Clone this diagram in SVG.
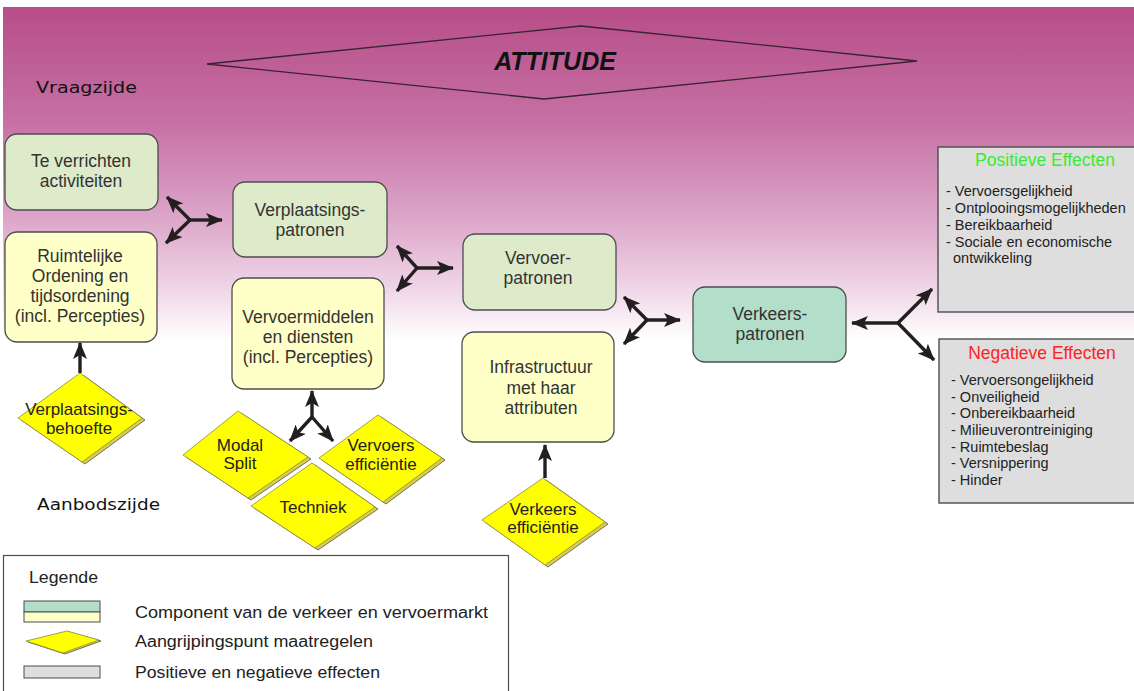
<svg xmlns="http://www.w3.org/2000/svg" width="1134" height="691" viewBox="0 0 1134 691">
<defs>
<linearGradient id="bg" x1="0" y1="0" x2="0" y2="1">
<stop offset="0" stop-color="#B74D89"/>
<stop offset="0.35" stop-color="#C671A5"/>
<stop offset="0.62" stop-color="#DBA3C7"/>
<stop offset="0.84" stop-color="#EFD4E6"/>
<stop offset="1" stop-color="#FFFFFF"/>
</linearGradient>
<marker id="ah" viewBox="0 0 17 14" refX="16" refY="7" markerWidth="17" markerHeight="14" orient="auto" markerUnits="userSpaceOnUse">
<path d="M0,0 L17,7 L0,14 L4,7 z" fill="#231F20"/>
</marker>
</defs>
<style>
.box{stroke:#4d4d4d;stroke-width:1.3}
.g{fill:#DDEBCB}
.y{fill:#FFFFC8}
.t{fill:#B3DECA}
.gr{fill:#DEDEDE;stroke:#4d4d4d;stroke-width:1.4}
.nt{font-family:"Liberation Sans",Arial,sans-serif;font-size:17.5px;fill:#333;text-anchor:middle}
.dt{font-family:"Liberation Sans",Arial,sans-serif;font-size:17px;fill:#222;text-anchor:middle}
.et{font-family:"Liberation Sans",Arial,sans-serif;font-size:14.5px;fill:#222}
.side{font-family:"DejaVu Sans",Verdana,sans-serif;font-size:16px;fill:#111}
.lg{font-family:"Liberation Sans",Arial,sans-serif;font-size:16px;fill:#222}
.dback{fill:#D9CC4A;stroke:#555;stroke-width:0.8}
.dfront{fill:#FFFF00;stroke:#8a8a40;stroke-width:0.8}
.con line{stroke:#231F20;stroke-width:3.4;marker-end:url(#ah)}
</style>
<rect x="0" y="0" width="1134" height="691" fill="#fff"/>
<rect x="3" y="7" width="1131" height="333" fill="url(#bg)"/>

<g id="attitude">
<polygon points="207,64 581,26 917,61 544,99" fill="none" stroke="#3a2232" stroke-width="1.3"/>
<text x="555" y="70" font-family="Liberation Sans,Arial,sans-serif" font-size="25" font-weight="bold" font-style="italic" text-anchor="middle" fill="#111">ATTITUDE</text>
</g>
<text class="side" x="36" y="93" textLength="101" lengthAdjust="spacingAndGlyphs">Vraagzijde</text>
<text class="side" x="37" y="510" textLength="123" lengthAdjust="spacingAndGlyphs">Aanbodszijde</text>

<g id="activiteiten">
<rect class="box g" x="5" y="134" width="153" height="76" rx="12"/>
<text class="nt" x="81" y="167">Te verrichten</text>
<text class="nt" x="81" y="187">activiteiten</text>
</g>
<g id="ruimtelijke">
<rect class="box y" x="5" y="232" width="152" height="110" rx="12"/>
<text class="nt" x="80" y="262">Ruimtelijke</text>
<text class="nt" x="80" y="282">Ordening en</text>
<text class="nt" x="80" y="302">tijdsordening</text>
<text class="nt" x="80" y="322">(incl. Percepties)</text>
</g>
<g id="verplaatsingspatronen">
<rect class="box g" x="233" y="182" width="154" height="75" rx="12"/>
<text class="nt" x="310" y="216">Verplaatsings-</text>
<text class="nt" x="310" y="236">patronen</text>
</g>
<g id="vervoermiddelen">
<rect class="box y" x="232" y="278" width="152" height="111" rx="12"/>
<text class="nt" x="308" y="323">Vervoermiddelen</text>
<text class="nt" x="308" y="343">en diensten</text>
<text class="nt" x="308" y="363">(incl. Percepties)</text>
</g>
<g id="vervoerpatronen">
<rect class="box g" x="463" y="234" width="153" height="76" rx="12"/>
<text class="nt" x="538" y="264">Vervoer-</text>
<text class="nt" x="538" y="284">patronen</text>
</g>
<g id="infrastructuur">
<rect class="box y" x="462" y="332" width="152" height="110" rx="12"/>
<text class="nt" x="541" y="373">Infrastructuur</text>
<text class="nt" x="541" y="394">met haar</text>
<text class="nt" x="541" y="414">attributen</text>
</g>
<g id="verkeerspatronen">
<rect class="box t" x="693" y="287" width="153" height="75" rx="12"/>
<text class="nt" x="770" y="320">Verkeers-</text>
<text class="nt" x="770" y="340">patronen</text>
</g>

<g id="positieve">
<rect class="gr" x="938" y="147" width="205" height="165"/>
<text x="1045" y="166" font-family="Liberation Sans,Arial,sans-serif" font-size="17.5" fill="#33EE33" text-anchor="middle">Positieve Effecten</text>
<text class="et" x="946" y="196">- Vervoersgelijkheid</text>
<text class="et" x="946" y="213">- Ontplooingsmogelijkheden</text>
<text class="et" x="946" y="230">- Bereikbaarheid</text>
<text class="et" x="946" y="247">- Sociale en economische</text>
<text class="et" x="953" y="263">ontwikkeling</text>
</g>
<g id="negatieve">
<rect class="gr" x="939" y="339" width="205" height="164"/>
<text x="1042" y="359" font-family="Liberation Sans,Arial,sans-serif" font-size="17.5" fill="#FF2222" text-anchor="middle">Negatieve Effecten</text>
<text class="et" x="951" y="385">- Vervoersongelijkheid</text>
<text class="et" x="951" y="402">- Onveiligheid</text>
<text class="et" x="951" y="418">- Onbereikbaarheid</text>
<text class="et" x="951" y="435">- Milieuverontreiniging</text>
<text class="et" x="951" y="452">- Ruimtebeslag</text>
<text class="et" x="951" y="468">- Versnippering</text>
<text class="et" x="951" y="485">- Hinder</text>
</g>

<g id="verplaatsingsbehoefte">
<polygon class="dback" points="21,420 83,375 145,420 85,464"/>
<polygon class="dfront" points="18,418 80,373 142,418 82,462"/>
<text class="dt" x="79" y="415">Verplaatsings-</text>
<text class="dt" x="79" y="434">behoefte</text>
</g>
<g id="modalsplit">
<polygon class="dback" points="186,457 241,413 311,459 251,500"/>
<polygon class="dfront" points="183,455 238,411 308,457 248,498"/>
<text class="dt" x="240" y="451">Modal</text>
<text class="dt" x="240" y="469">Split</text>
</g>
<g id="vervoersefficientie">
<polygon class="dback" points="322,460 381,417 445,460 386,504"/>
<polygon class="dfront" points="319,458 378,415 442,458 383,502"/>
<text class="dt" x="381" y="451">Vervoers</text>
<text class="dt" x="381" y="470">efficiëntie</text>
</g>
<g id="techniek">
<polygon class="dback" points="254,508 315,465 378,509 318,550"/>
<polygon class="dfront" points="251,506 312,463 375,507 315,548"/>
<text class="dt" x="313" y="513">Techniek</text>
</g>
<g id="verkeersefficientie">
<polygon class="dback" points="485,522 546,480 608,524 548,567"/>
<polygon class="dfront" points="482,520 543,478 605,522 545,565"/>
<text class="dt" x="543" y="515">Verkeers</text>
<text class="dt" x="543" y="533">efficiëntie</text>
</g>

<g id="connectors" class="con">
<line x1="190" y1="220" x2="222" y2="220"/>
<line x1="190" y1="220" x2="167" y2="197"/>
<line x1="190" y1="220" x2="166" y2="243"/>
<line x1="417" y1="268" x2="453" y2="268"/>
<line x1="417" y1="268" x2="397" y2="246"/>
<line x1="417" y1="268" x2="397" y2="291"/>
<line x1="647" y1="320" x2="680" y2="320"/>
<line x1="647" y1="320" x2="624" y2="297"/>
<line x1="647" y1="320" x2="624" y2="344"/>
<line x1="898" y1="323" x2="852" y2="323"/>
<line x1="898" y1="323" x2="932" y2="289"/>
<line x1="898" y1="323" x2="934" y2="360"/>
<line x1="312" y1="417" x2="312" y2="391"/>
<line x1="312" y1="417" x2="290" y2="441"/>
<line x1="312" y1="417" x2="333" y2="441"/>
<line x1="80" y1="373" x2="80" y2="343"/>
<line x1="545" y1="478" x2="545" y2="445"/>
</g>

<g id="legend">
<rect x="3.5" y="555.5" width="505" height="150" fill="#fff" stroke="#4d4d4d" stroke-width="1.2"/>
<text class="lg" x="29" y="583" textLength="69" lengthAdjust="spacingAndGlyphs">Legende</text>
<rect x="24" y="601" width="76" height="11" fill="#B3DECA" stroke="#4d4d4d" stroke-width="1"/>
<rect x="24" y="612" width="76" height="10" fill="#FFFFC8" stroke="#4d4d4d" stroke-width="1"/>
<text class="lg" x="135" y="618" textLength="353" lengthAdjust="spacingAndGlyphs">Component van de verkeer en vervoermarkt</text>
<polygon class="dback" points="28,642 69,632 101,641 65,654"/>
<polygon class="dfront" points="26,641 67,631 99,640 63,653"/>
<text class="lg" x="135" y="647" textLength="238" lengthAdjust="spacingAndGlyphs">Aangrijpingspunt maatregelen</text>
<rect x="24" y="666" width="76" height="12" fill="#DEDEDE" stroke="#4d4d4d" stroke-width="1"/>
<text class="lg" x="135" y="678" textLength="245" lengthAdjust="spacingAndGlyphs">Positieve en negatieve effecten</text>
</g>
</svg>
